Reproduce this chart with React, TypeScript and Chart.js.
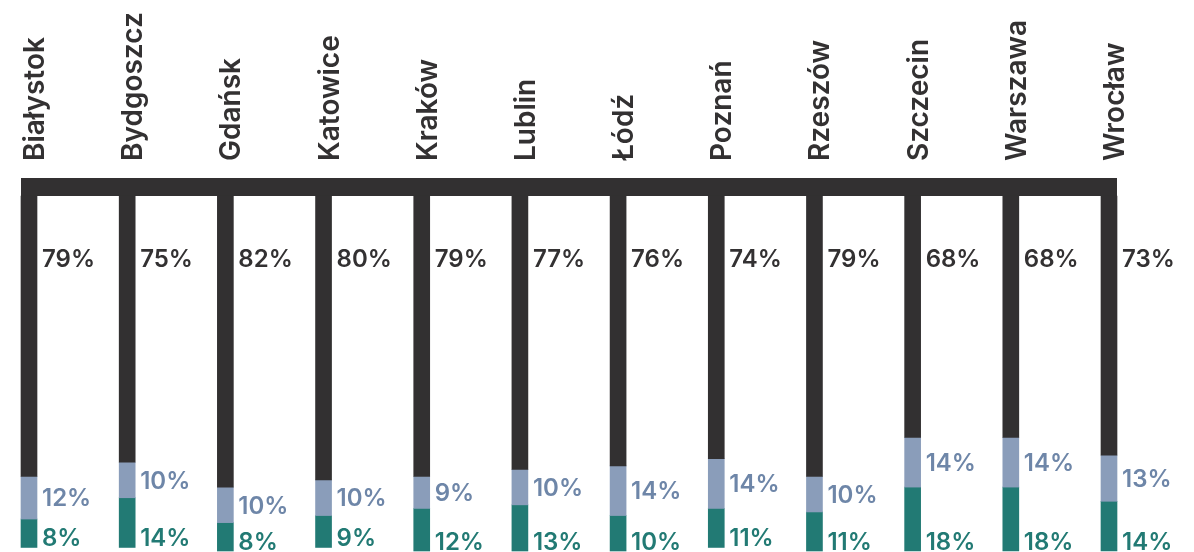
import React, { useEffect, useRef } from "react";
import { Chart, registerables } from "chart.js";

Chart.register(...registerables);

const cities = [
  "Białystok", "Bydgoszcz", "Gdańsk", "Katowice", "Kraków", "Lublin",
  "Łódź", "Poznań", "Rzeszów", "Szczecin", "Warszawa", "Wrocław",
];
const darkValues = [79, 75, 82, 80, 79, 77, 76, 74, 79, 68, 68, 73];
const lightValues = [12, 10, 10, 10, 9, 10, 14, 14, 10, 14, 14, 13];
const tealValues = [8, 14, 8, 9, 12, 13, 10, 11, 11, 18, 18, 14];

const DARK = "#323031";
const LIGHT = "#8a9dba";
const TEAL = "#227a74";
const DARK_TXT = "#333132";
const LIGHT_TXT = "#6e86a8";
const TEAL_TXT = "#227a74";
const FONT = "Inter, 'Open Sans', sans-serif";

const decoPlugin = {
  id: "deco",
  beforeDatasetsDraw(chart: any) {
    const { ctx, chartArea } = chart;
    ctx.save();
    ctx.fillStyle = DARK;
    ctx.fillRect(chartArea.left - 8, chartArea.top - 18, chartArea.right - chartArea.left + 16, 18);
    ctx.restore();
  },
  afterDatasetsDraw(chart: any) {
    const { ctx, chartArea } = chart;
    const xs = chart.scales.x;
    const ys = chart.scales.y;
    ctx.save();
    // city names
    ctx.font = `600 28px ${FONT}`;
    ctx.fillStyle = DARK_TXT;
    ctx.textAlign = "left";
    ctx.textBaseline = "alphabetic";
    cities.forEach((c, i) => {
      const x = xs.getPixelForValue(i);
      ctx.save();
      ctx.translate(x + 15, chartArea.top - 35);
      ctx.rotate(-Math.PI / 2);
      ctx.fillText(c, 0, 0);
      ctx.restore();
    });
    // value labels
    ctx.font = `600 24px ${FONT}`;
    const cap = 8.7;
    cities.forEach((_, i) => {
      const x = xs.getPixelForValue(i) + 13;
      const d = darkValues[i];
      const l = lightValues[i];
      const t = tealValues[i];
      ctx.fillStyle = DARK_TXT;
      ctx.fillText(d + "%", x, ys.getPixelForValue(20));
      ctx.fillStyle = LIGHT_TXT;
      ctx.fillText(l + "%", x, ys.getPixelForValue(d + l / 2) + cap);
      ctx.fillStyle = TEAL_TXT;
      ctx.fillText(t + "%", x, ys.getPixelForValue(d + l + t) - 1);
    });
    ctx.restore();
  },
};

export default function App() {
  const ref = useRef<HTMLCanvasElement>(null);
  useEffect(() => {
    if (!ref.current) return;
    const chart = new Chart(ref.current, {
      type: "bar",
      data: {
        labels: cities,
        datasets: [
          { label: "dark", data: darkValues, backgroundColor: DARK, barThickness: 16, borderWidth: 0, clip: false as any },
          { label: "light", data: lightValues, backgroundColor: LIGHT, barThickness: 16, borderWidth: 0, clip: false as any },
          { label: "teal", data: tealValues, backgroundColor: TEAL, barThickness: 16, borderWidth: 0, clip: false as any },
        ],
      },
      options: {
        animation: false,
        responsive: false,
        devicePixelRatio: 1,
        layout: { padding: { top: 196, left: 29, right: 85, bottom: 1 } },
        plugins: { legend: { display: false }, tooltip: { enabled: false } },
        scales: {
          x: { display: false, stacked: true, offset: false },
          y: { display: false, stacked: true, reverse: true, min: 0, max: 100 },
        },
      },
      plugins: [decoPlugin],
    });
    return () => chart.destroy();
  }, []);
  return (
    <div style={{ position: "absolute", left: 0, top: 0, width: 1194, height: 552, background: "#fff" }}>
      <canvas ref={ref} width={1194} height={552} />
    </div>
  );
}
